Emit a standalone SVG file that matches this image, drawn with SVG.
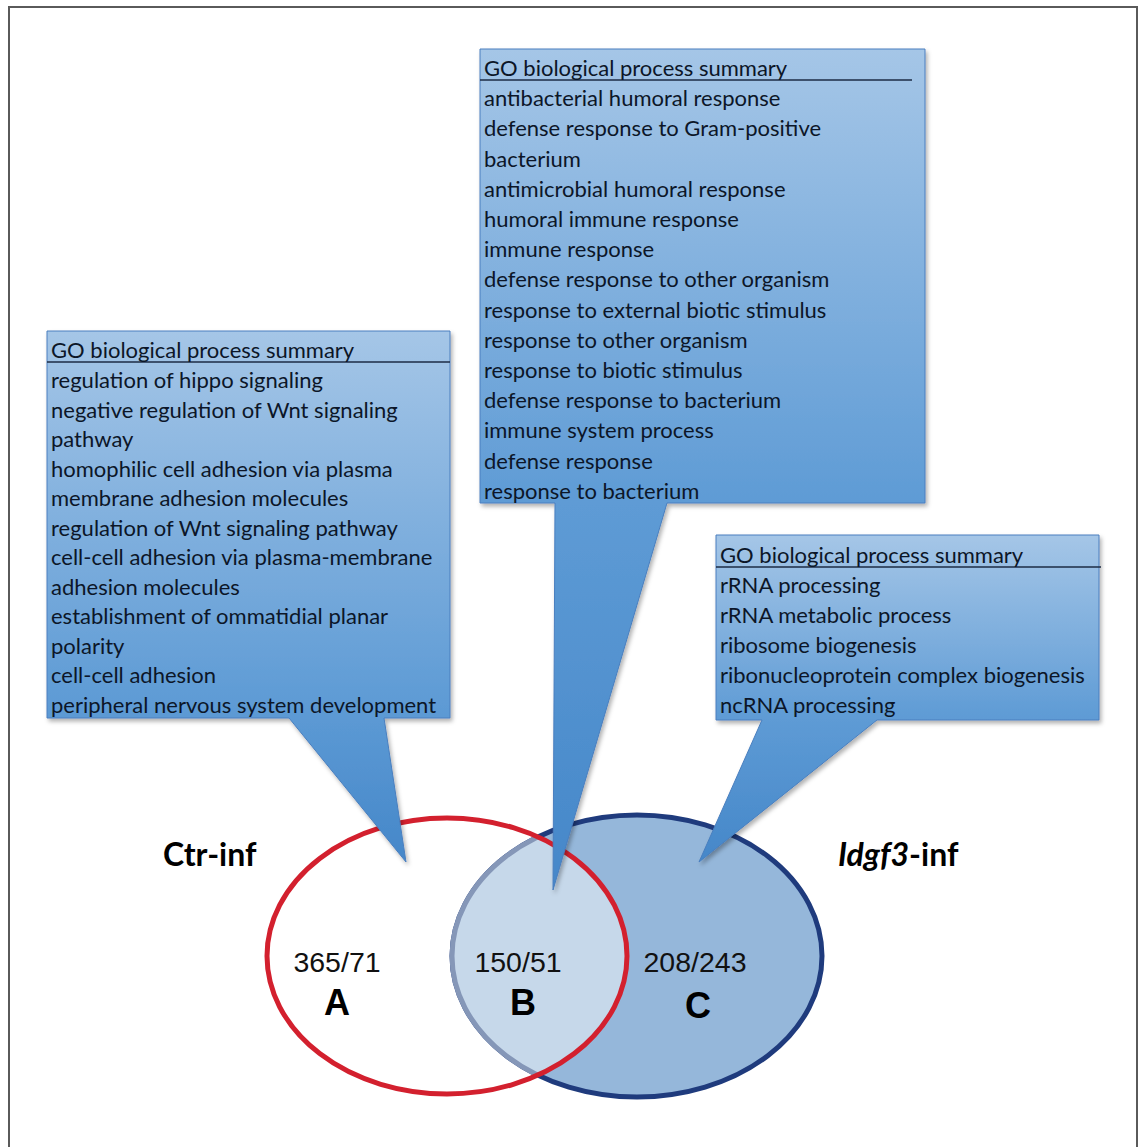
<svg xmlns="http://www.w3.org/2000/svg" width="1143" height="1147" viewBox="0 0 1143 1147">
<style>
.list{font-family:Lato,"Open Sans",sans-serif;font-size:22px;fill:#0c1628}
.num{font-family:"Liberation Sans",Arial,sans-serif;font-size:28.5px;fill:#111;text-anchor:middle}
.let{font-family:"Liberation Sans",Arial,sans-serif;font-size:36px;font-weight:bold;fill:#000;text-anchor:middle}
.set{font-family:Lato,"Open Sans",sans-serif;font-size:32px;font-weight:bold;fill:#000}
.callout{stroke:#4a7fbf;stroke-width:1;filter:url(#sh)}
.rule{stroke:#1c2b45;stroke-width:1.6}
</style>
<defs>
<filter id="sh" x="-10%" y="-10%" width="120%" height="120%">
<feDropShadow dx="2" dy="3" stdDeviation="2" flood-color="#000" flood-opacity="0.3"/>
</filter>
<linearGradient id="gA" gradientUnits="userSpaceOnUse" x1="0" y1="331" x2="0" y2="862">
<stop offset="0" stop-color="#a5c6e7"/><stop offset="0.7" stop-color="#5e9bd5"/><stop offset="1" stop-color="#4587c9"/>
</linearGradient>
<linearGradient id="gB" gradientUnits="userSpaceOnUse" x1="0" y1="49" x2="0" y2="890">
<stop offset="0" stop-color="#a5c6e7"/><stop offset="0.54" stop-color="#5e9bd5"/><stop offset="1" stop-color="#4587c9"/>
</linearGradient>
<linearGradient id="gC" gradientUnits="userSpaceOnUse" x1="0" y1="535" x2="0" y2="862">
<stop offset="0" stop-color="#a5c6e7"/><stop offset="0.56" stop-color="#5e9bd5"/><stop offset="1" stop-color="#4587c9"/>
</linearGradient>
<clipPath id="redClip"><ellipse cx="447" cy="956" rx="180" ry="138"/></clipPath>
</defs>

<g id="frame" fill="none" stroke="#5a5a5a" stroke-width="2">
<path d="M9,1147 V7 H1137 V1147"/>
</g>

<g id="venn">
<g id="set-C">
<ellipse cx="637" cy="956" rx="185" ry="141" fill="#95b7da" stroke="#1f3b7d" stroke-width="5"/>
</g>
<g id="set-B" clip-path="url(#redClip)">
<ellipse cx="637" cy="956" rx="185" ry="141" fill="#c6d8ea" stroke="#8597b8" stroke-width="5"/>
</g>
<g id="set-A">
<ellipse cx="447" cy="956" rx="180" ry="138" fill="none" stroke="#d3202e" stroke-width="5"/>
</g>
<text class="num" x="337" y="972">365/71</text>
<text class="let" x="337" y="1015">A</text>
<text class="num" x="518" y="972">150/51</text>
<text class="let" x="523" y="1015">B</text>
<text class="num" x="695" y="972">208/243</text>
<text class="let" x="698" y="1018">C</text>
<text id="label-ctr" class="set" x="163" y="866">Ctr-inf</text>
<text id="label-idgf3" class="set" x="838" y="866"><tspan font-style="italic">Idgf3</tspan>-inf</text>
</g>

<g id="callout-A">
<path class="callout" fill="url(#gA)" d="M47,331 H450 V718 H384 L406,862 L289,718 H47 Z"/>
<line class="rule" x1="47" y1="362" x2="450" y2="362"/>
<text class="list">
<tspan x="51" y="358">GO biological process summary</tspan>
<tspan x="51" y="388">regulation of hippo signaling</tspan>
<tspan x="51" y="417.5">negative regulation of Wnt signaling</tspan>
<tspan x="51" y="447">pathway</tspan>
<tspan x="51" y="476.5">homophilic cell adhesion via plasma</tspan>
<tspan x="51" y="506">membrane adhesion molecules</tspan>
<tspan x="51" y="535.5">regulation of Wnt signaling pathway</tspan>
<tspan x="51" y="565">cell-cell adhesion via plasma-membrane</tspan>
<tspan x="51" y="594.5">adhesion molecules</tspan>
<tspan x="51" y="624">establishment of ommatidial planar</tspan>
<tspan x="51" y="653.5">polarity</tspan>
<tspan x="51" y="683">cell-cell adhesion</tspan>
<tspan x="51" y="712.5">peripheral nervous system development</tspan>
</text>
</g>

<g id="callout-B">
<path class="callout" fill="url(#gB)" d="M480,49 H925 V503 H667 L553,890 L555,503 H480 Z"/>
<line class="rule" x1="480" y1="80" x2="912" y2="80"/>
<text class="list">
<tspan x="484" y="76">GO biological process summary</tspan>
<tspan x="484" y="106">antibacterial humoral response</tspan>
<tspan x="484" y="136">defense response to Gram-positive</tspan>
<tspan x="484" y="166.5">bacterium</tspan>
<tspan x="484" y="196.5">antimicrobial humoral response</tspan>
<tspan x="484" y="227">humoral immune response</tspan>
<tspan x="484" y="257">immune response</tspan>
<tspan x="484" y="287">defense response to other organism</tspan>
<tspan x="484" y="317.5">response to external biotic stimulus</tspan>
<tspan x="484" y="347.5">response to other organism</tspan>
<tspan x="484" y="378">response to biotic stimulus</tspan>
<tspan x="484" y="408">defense response to bacterium</tspan>
<tspan x="484" y="438">immune system process</tspan>
<tspan x="484" y="468.5">defense response</tspan>
<tspan x="484" y="498.5">response to bacterium</tspan>
</text>
</g>

<g id="callout-C">
<path class="callout" fill="url(#gC)" d="M716,535 H1099 V720 H877 L699,862 L762,720 H716 Z"/>
<line class="rule" x1="716" y1="567" x2="1101" y2="567"/>
<text class="list">
<tspan x="720" y="563">GO biological process summary</tspan>
<tspan x="720" y="593">rRNA processing</tspan>
<tspan x="720" y="623">rRNA metabolic process</tspan>
<tspan x="720" y="653">ribosome biogenesis</tspan>
<tspan x="720" y="683">ribonucleoprotein complex biogenesis</tspan>
<tspan x="720" y="713">ncRNA processing</tspan>
</text>
</g>
</svg>
